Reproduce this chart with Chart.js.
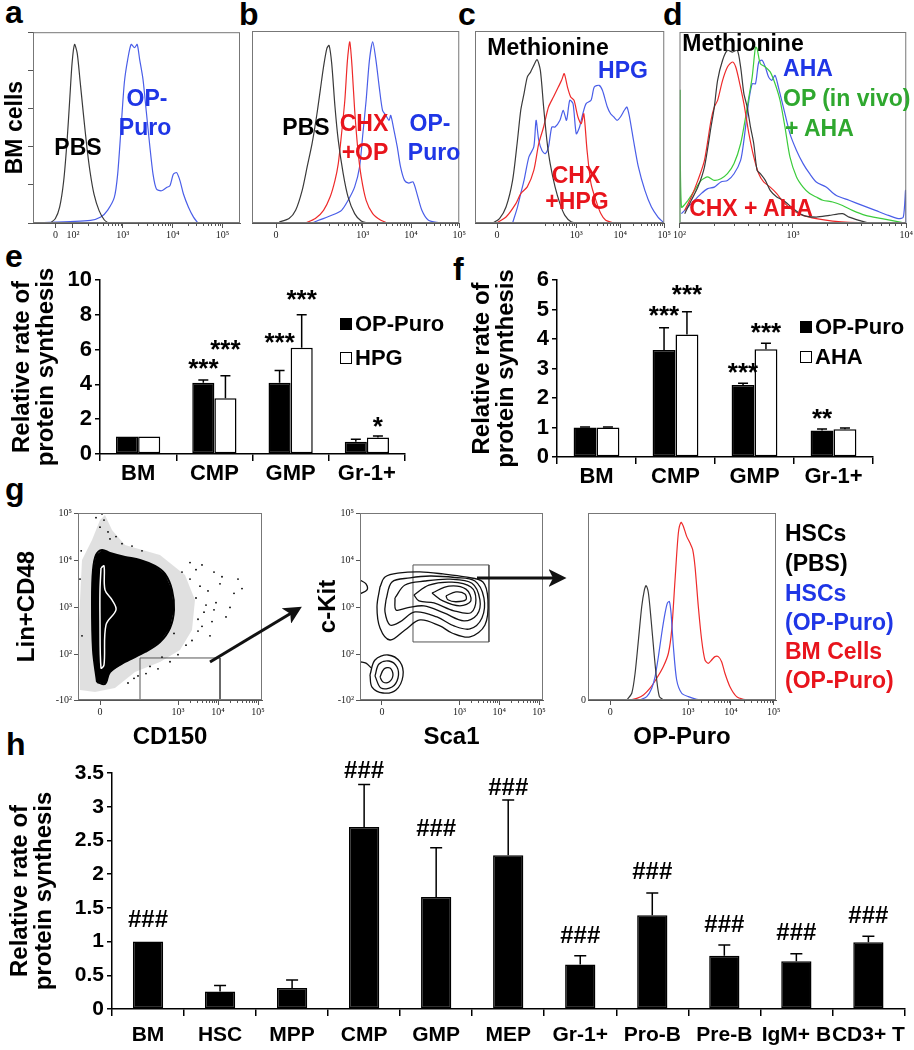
<!DOCTYPE html>
<html>
<head>
<meta charset="utf-8">
<script src="https://cdn.jsdelivr.net/npm/chart.js@4.4.1/dist/chart.umd.min.js"></script>
<style>
body { margin:0; background:#fff; width:914px; height:1050px; position:relative; overflow:hidden; font-family:"Liberation Sans", Arial, sans-serif; }
canvas { position:absolute; }
.pl { position:absolute; font-weight:bold; font-size:32px; line-height:1; }
.t { position:absolute; font-weight:bold; font-size:23px; line-height:1; white-space:nowrap; transform:translate(-50%,-50%); }
.tl { position:absolute; font-weight:bold; font-size:23px; line-height:1; white-space:nowrap; transform:translate(0,-50%); }
.k { color:#000; } .bl { color:#1f36e6; } .rd { color:#e8141c; } .gr { color:#2fa82f; }
svg { position:absolute; left:0; top:0; }
</style>
</head>
<body>

<!-- panel letters -->
<div class="pl" style="left:5px;top:-4px">a</div>
<div class="pl" style="left:239px;top:-2px">b</div>
<div class="pl" style="left:458px;top:-2px">c</div>
<div class="pl" style="left:663px;top:-2px">d</div>
<div class="pl" style="left:5px;top:240px">e</div>
<div class="pl" style="left:453px;top:253px">f</div>
<div class="pl" style="left:5px;top:473px">g</div>
<div class="pl" style="left:6px;top:728px">h</div>

<canvas id="ca" width="248" height="220" style="left:0;top:25px"></canvas>
<canvas id="cb" width="222" height="220" style="left:245px;top:25px"></canvas>
<canvas id="cc" width="202" height="220" style="left:470px;top:25px"></canvas>
<canvas id="cd" width="242" height="220" style="left:672px;top:25px"></canvas>
<canvas id="ce" width="455" height="235" style="left:0;top:255px"></canvas>
<canvas id="cf" width="459" height="235" style="left:455px;top:255px"></canvas>
<canvas id="cg1" width="270" height="255" style="left:0;top:495px"></canvas>
<canvas id="cg2" width="260" height="255" style="left:290px;top:495px"></canvas>
<canvas id="cg3" width="354" height="255" style="left:560px;top:495px"></canvas>
<canvas id="ch" width="914" height="305" style="left:0;top:745px"></canvas>

<!-- histogram annotations -->
<div class="t k" style="left:78px;top:147px">PBS</div>
<div class="t bl" style="left:147px;top:98px">OP-</div>
<div class="t bl" style="left:145px;top:127px">Puro</div>

<div class="t k" style="left:306px;top:127px">PBS</div>
<div class="t rd" style="left:364px;top:123px">CHX</div>
<div class="t rd" style="left:365px;top:152px">+OP</div>
<div class="t bl" style="left:430px;top:123px">OP-</div>
<div class="t bl" style="left:434px;top:152px">Puro</div>

<div class="t k" style="left:548px;top:47px">Methionine</div>
<div class="t bl" style="left:623px;top:70px">HPG</div>
<div class="t rd" style="left:576px;top:175px">CHX</div>
<div class="t rd" style="left:577px;top:201px">+HPG</div>

<div class="t k" style="left:743px;top:43px">Methionine</div>
<div class="t bl" style="left:808px;top:68px">AHA</div>
<div class="tl gr" style="left:783px;top:98px">OP (in vivo)</div>
<div class="tl gr" style="left:785px;top:128px">+ AHA</div>
<div class="t rd" style="left:751px;top:208px">CHX + AHA</div>

<div class="tl k" style="left:785px;top:533px">HSCs</div>
<div class="tl k" style="left:785px;top:563px">(PBS)</div>
<div class="tl bl" style="left:785px;top:593px">HSCs</div>
<div class="tl bl" style="left:785px;top:622px">(OP-Puro)</div>
<div class="tl rd" style="left:785px;top:651px">BM Cells</div>
<div class="tl rd" style="left:785px;top:680px">(OP-Puro)</div>

<svg width="914" height="1050">
  <defs>
    <marker id="ah" markerWidth="6" markerHeight="6" refX="4.5" refY="3" orient="auto">
      <path d="M0,0 L6,3 L0,6 L1.5,3 z" fill="#111"/>
    </marker>
  </defs>
  <line x1="210" y1="662" x2="298" y2="609" stroke="#111" stroke-width="3" marker-end="url(#ah)"/>
  <line x1="477" y1="578" x2="562" y2="578" stroke="#111" stroke-width="3" marker-end="url(#ah)"/>
</svg>

<script>
// ---- a: BM cells, x = log10 fluorescence, y = % of max ----
const aPbsLog = [1.545, 1.646, 1.734, 1.815, 1.883, 1.937, 1.984, 2.032, 2.086, 2.14, 2.207, 2.275, 2.343, 2.424, 2.525, 2.627, 2.708];
const aPbsPct = [0, 2.2, 8.3, 22, 43, 65, 84, 93.6, 89, 75.5, 58, 41, 27, 15, 6.5, 1.7, 0];
const aOpLog = [1.207, 2.356, 2.559, 2.694, 2.83, 2.897, 2.965, 3.032, 3.1, 3.168, 3.235, 3.289, 3.337, 3.404, 3.472, 3.539, 3.607, 3.675, 3.776, 3.878, 3.945, 4.013, 4.08, 4.148, 4.216, 4.317, 4.418, 4.506];
const aOpPct = [0, 1.4, 3.1, 6.6, 13.4, 25.5, 49.7, 73.8, 85.9, 93.6, 91.9, 93.6, 85.9, 75.5, 58.3, 41, 25.5, 17.8, 16.9, 18.6, 19.5, 25.5, 26.4, 22.1, 15.2, 8.3, 3.1, 0];

// ---- b ----
const bPbsLog = [1.265, 1.469, 1.605, 1.741, 1.844, 1.946, 2.048, 2.116, 2.184, 2.252, 2.299, 2.354, 2.422, 2.49, 2.592, 2.694, 2.83, 2.966, 3.102];
const bPbsPct = [0.5, 2.3, 6.6, 17, 29.2, 41.3, 56.9, 69.1, 81.3, 90.8, 92.5, 83, 60.4, 43, 25.7, 13.5, 4.9, 1, 0];
const bChxLog = [1.81, 2.014, 2.184, 2.32, 2.422, 2.49, 2.558, 2.626, 2.68, 2.728, 2.776, 2.83, 2.898, 2.966, 3.068, 3.204, 3.374, 3.51];
const bChxPct = [0, 2.3, 6.6, 13.5, 22.2, 30.9, 46.5, 63.9, 84.7, 94.3, 81.3, 58.7, 37.8, 24, 11.8, 4.9, 1.4, 0];
const bOpLog = [1.946, 2.082, 2.354, 2.558, 2.694, 2.83, 2.932, 3.0, 3.068, 3.136, 3.204, 3.272, 3.34, 3.408, 3.476, 3.544, 3.578, 3.646, 3.714, 3.782, 3.864, 3.952, 4.041, 4.122, 4.224, 4.361, 4.599];
const bOpPct = [0, 1.4, 4, 6.6, 11.8, 18.8, 29.2, 46.5, 63.9, 84.7, 94.3, 84.7, 70.8, 58.7, 56.1, 53.5, 56.1, 48.3, 39.6, 29.2, 22.2, 20.8, 21.4, 15.3, 6.6, 1.4, 0];

// ---- c ----
const cMetLog = [1.108, 1.257, 1.405, 1.554, 1.665, 1.739, 1.814, 1.888, 1.962, 2.036, 2.111, 2.185, 2.259, 2.333, 2.408, 2.519, 2.63, 2.742, 2.89, 3.001];
const cMetPct = [0, 2.3, 8.3, 22.2, 43.1, 58.7, 67.4, 76, 78.6, 82.1, 85.1, 79.5, 60.4, 43.1, 30.9, 18.8, 10.1, 4, 0.5, 0];
const cChxLog = [1.183, 1.405, 1.628, 1.739, 1.888, 2.036, 2.148, 2.259, 2.37, 2.482, 2.593, 2.667, 2.727, 2.801, 2.875, 2.95, 3.039, 3.113, 3.172, 3.246, 3.336, 3.447, 3.558, 3.67, 3.855];
const cChxPct = [0, 3.1, 10.1, 15.3, 18.8, 27.4, 41.3, 50, 60.4, 65.6, 70.8, 74.3, 77.8, 70.8, 65.6, 63.9, 55.2, 51.7, 56.9, 37.8, 20.5, 11.8, 4.9, 1.4, 0];
const cHpgLog = [1.554, 1.665, 1.739, 1.814, 1.925, 2.036, 2.088, 2.148, 2.222, 2.296, 2.37, 2.445, 2.519, 2.63, 2.704, 2.779, 2.853, 2.927, 3.001, 3.076, 3.15, 3.224, 3.336, 3.41, 3.521, 3.595, 3.707, 3.781, 3.855, 3.929, 4.004, 4.093, 4.152, 4.211, 4.301, 4.412, 4.56, 4.709, 4.857, 4.969];
const cHpgPct = [0, 8.3, 15.3, 22.2, 34.4, 39.6, 53.5, 43.1, 37.8, 36.1, 39.6, 50, 50, 53.5, 58.7, 53.5, 63.9, 62.2, 46.5, 50, 56.9, 62.2, 63.9, 70.8, 71.7, 69.1, 60.4, 56.9, 55.2, 53.5, 55.2, 58.7, 60.4, 55.2, 43.1, 29.2, 17, 8.3, 3.1, 0.5];

// ---- d ----
const dMetLog = [2.046, 2.104, 2.162, 2.22, 2.278, 2.307, 2.336, 2.38, 2.423, 2.467, 2.51, 2.539, 2.568, 2.597, 2.626, 2.655, 2.684, 2.713, 2.757, 2.8, 2.858, 2.916, 3.003, 3.09, 3.206, 3.322, 3.438, 3.496, 3.583, 3.67];
const dMetPct = [4.9, 11.9, 18.8, 29.3, 50.3, 60.7, 74.7, 85.2, 90.4, 89.5, 90.4, 81.7, 67.7, 60.7, 50.3, 41.5, 27.6, 25.8, 22.3, 17.1, 13.6, 11.9, 7.5, 4, 3.1, 4, 4.9, 3.1, 1.4, 0];
const dChxLog = [2.046, 2.104, 2.162, 2.22, 2.278, 2.307, 2.336, 2.38, 2.423, 2.467, 2.496, 2.525, 2.568, 2.612, 2.655, 2.699, 2.742, 2.8, 2.858, 2.916, 3.003, 3.09, 3.206, 3.351, 3.496, 3.786];
const dChxPct = [6.6, 13.6, 22.3, 32.8, 53.8, 60.7, 64.2, 74.7, 81.7, 84.3, 81.7, 74.7, 62.5, 46.8, 34.6, 25.8, 21.5, 18.8, 15.4, 11, 6.6, 4, 2.3, 1, 0.3, 0];
const dOpAhaLog = [2.003, 2.006, 2.017, 2.075, 2.133, 2.191, 2.249, 2.307, 2.365, 2.423, 2.481, 2.539, 2.583, 2.612, 2.641, 2.67, 2.684, 2.713, 2.757, 2.8, 2.843, 2.887, 2.93, 2.974, 3.032, 3.09, 3.148, 3.206, 3.264, 3.351, 3.438, 3.525, 3.641, 3.786, 3.901, 3.988];
const dOpAhaPct = [0, 69.5, 8.4, 11.9, 17.1, 22.3, 24.1, 22.3, 23.2, 25.8, 31.1, 41.5, 55.5, 66, 76.4, 92.1, 91.3, 83.4, 81.7, 79.1, 72.9, 64.2, 50.3, 34.6, 24.1, 18.8, 15.4, 13.6, 11.9, 11, 9.2, 6.6, 4, 2.3, 1, 0];
const dAhaLog = [2.017, 2.075, 2.133, 2.191, 2.249, 2.307, 2.365, 2.423, 2.481, 2.539, 2.568, 2.612, 2.641, 2.67, 2.699, 2.728, 2.757, 2.786, 2.814, 2.843, 2.872, 2.916, 2.974, 3.032, 3.09, 3.148, 3.206, 3.293, 3.38, 3.496, 3.612, 3.728, 3.843, 3.93, 3.974, 3.994, 4.0];
const dAhaPct = [4.9, 8.4, 11.9, 15.4, 18, 18.8, 21.5, 22.3, 25.8, 32.8, 43.3, 64.2, 72.9, 72.9, 84.3, 85.2, 81.7, 76.4, 74.7, 77.3, 71.2, 60.7, 46.8, 38, 31.1, 25.8, 21.5, 18.8, 14.5, 11.9, 9.2, 6.6, 4, 2.3, 3.1, 17.1, 0];

// ---- e / f bars (sigAt = height of the star marks, same units) ----
const eCats = ["BM", "CMP", "GMP", "Gr-1+"];
const eOpPuro = [1, 4.1, 4.1, 0.7];
const eOpPuroErr = [0, 0.15, 0.7, 0.15];
const eOpPuroSig = ["", "***", "***", ""];
const eOpPuroSigAt = [0, 5.3, 6.8, 0];
const eHpg = [1, 3.2, 6.1, 0.95];
const eHpgErr = [0, 1.3, 1.9, 0.08];
const eHpgSig = ["", "***", "***", "*"];
const eHpgSigAt = [0, 6.4, 9.25, 1.95];

const fCats = ["BM", "CMP", "GMP", "Gr-1+"];
const fOpPuro = [1, 3.63, 2.44, 0.9];
const fOpPuroErr = [0.02, 0.75, 0.06, 0.05];
const fOpPuroSig = ["", "***", "***", "**"];
const fOpPuroSigAt = [0, 5.03, 3.08, 1.54];
const fAha = [1, 4.15, 3.65, 0.94];
const fAhaErr = [0.02, 0.77, 0.21, 0.04];
const fAhaSig = ["", "***", "***", ""];
const fAhaSigAt = [0, 5.72, 4.45, 0];

// ---- g1: Lin+CD48 vs CD150 (display decades) ----
const g1HaloX = [0.55, 0.525, 0.6, 0.85, 1.05, 1.175, 1.35, 1.675, 2.55, 3.175, 3.425, 3.35, 3.05, 2.55, 1.925, 1.425, 0.925, 0.55];
const g1HaloY = [1.252, 2.735, 4.006, 4.43, 4.854, 4.96, 4.642, 4.324, 4.112, 3.688, 3.159, 2.523, 2.099, 1.845, 1.633, 1.294, 1.209, 1.252];
const g1BlobX = [0.975, 0.875, 0.85, 0.875, 0.95, 1.1, 1.3, 1.675, 2.05, 2.425, 2.675, 2.85, 2.9, 2.8, 2.55, 2.175, 1.675, 1.3, 1.175, 0.975];
const g1BlobY = [1.421, 2.099, 3.159, 3.794, 4.112, 4.218, 4.154, 4.07, 4.006, 3.879, 3.71, 3.371, 2.947, 2.565, 2.269, 2.057, 1.845, 1.633, 1.379, 1.421];
const g1CoreX = [1.075, 1.15, 1.175, 1.35, 1.45, 1.2, 1.15, 1.075, 1.05, 1.05, 1.075];
const g1CoreY = [3.837, 3.879, 3.371, 3.159, 2.947, 2.629, 1.782, 1.718, 2.735, 3.371, 3.837];
const g1DotX = [0.95, 1.05, 1.15, 1.25, 1.1, 1.3, 1.45, 1.6, 1.85, 2.1, 3.3, 3.45, 3.55, 3.65, 3.75, 3.85, 3.95, 4.05, 4.2, 4.4, 4.6, 3.5, 3.6, 3.8, 3.9, 4.1, 3.45, 3.7, 3.35, 3.6, 3.2, 3.0, 2.8, 2.5, 2.2, 1.9, 0.55, 0.6, 0.58, 3.9, 4.3, 4.5, 3.3, 3.5, 2.9, 3.1, 2.6, 2.3, 2.0, 1.75];
const g1DotY = [4.9, 4.7, 4.85, 4.6, 4.98, 4.45, 4.5, 4.35, 4.3, 4.2, 3.6, 3.2, 3.45, 2.9, 3.35, 2.7, 3.1, 3.5, 2.8, 3.3, 3.4, 2.5, 2.6, 2.4, 2.95, 3.65, 3.8, 3.05, 2.3, 3.9, 2.2, 2.0, 1.85, 1.7, 1.6, 1.5, 3.6, 2.4, 4.2, 3.75, 3.0, 3.6, 3.95, 2.75, 2.45, 3.75, 1.95, 1.75, 1.55, 1.4];
const g1GateX = [2.05, 2.05, 4.05, 4.05];
const g1GateY = [1.04, 1.93, 1.93, 1.04];

// ---- g2: c-Kit vs Sca1 contours ----
const g2C1X = [1.003, 1.128, 1.505, 2.008, 2.585, 3.138, 3.59, 3.716, 3.641, 3.264, 2.812, 2.51, 2.008, 1.631, 1.254, 1.003, 0.927, 1.003];
const g2C1Y = [3.434, 3.646, 3.731, 3.752, 3.709, 3.646, 3.54, 3.159, 2.629, 2.375, 2.459, 2.608, 2.735, 2.523, 2.311, 2.565, 3.01, 3.434];
const g2C2X = [1.153, 1.304, 1.756, 2.259, 2.887, 3.389, 3.615, 3.565, 3.264, 2.862, 2.434, 1.882, 1.505, 1.254, 1.128, 1.153];
const g2C2Y = [3.159, 3.54, 3.625, 3.666, 3.634, 3.559, 3.201, 2.777, 2.545, 2.609, 2.798, 2.904, 2.693, 2.629, 2.904, 3.159];
const g2C3X = [1.379, 1.631, 2.133, 2.761, 3.314, 3.515, 3.439, 3.113, 2.61, 2.108, 1.681, 1.405, 1.379];
const g2C3Y = [3.201, 3.476, 3.56, 3.599, 3.514, 3.159, 2.843, 2.716, 2.884, 3.033, 2.989, 2.947, 3.201];
const g2C4X = [1.856, 2.233, 2.811, 3.288, 3.414, 3.288, 2.861, 2.359, 1.982, 1.856];
const g2C4Y = [3.265, 3.474, 3.535, 3.431, 3.159, 2.888, 2.929, 3.096, 3.138, 3.265];
const g2C5X = [2.309, 2.736, 3.163, 3.288, 3.012, 2.584, 2.309];
const g2C5Y = [3.306, 3.452, 3.388, 3.14, 3.035, 3.139, 3.306];
const g2C6X = [2.66, 2.911, 3.137, 3.161, 2.91, 2.71, 2.66];
const g2C6Y = [3.246, 3.329, 3.285, 3.161, 3.121, 3.162, 3.246];
const g2S1X = [0.751, 0.877, 1.204, 1.505, 1.58, 1.405, 1.078, 0.802, 0.751];
const g2S1Y = [1.57, 1.887, 1.993, 1.845, 1.548, 1.252, 1.188, 1.315, 1.57];
const g2S2X = [0.877, 0.977, 1.229, 1.43, 1.455, 1.304, 1.028, 0.877];
const g2S2Y = [1.548, 1.803, 1.866, 1.739, 1.506, 1.315, 1.294, 1.548];
const g2S3X = [1.003, 1.103, 1.254, 1.329, 1.229, 1.078, 1.003];
const g2S3Y = [1.527, 1.697, 1.718, 1.57, 1.421, 1.421, 1.527];
const g2TailX = [0.5, 0.65, 0.78];
const g2TailY = [1.85, 1.82, 1.72];
const g2EdgeX = [0.5, 0.651, 0.676, 0.5];
const g2EdgeY = [3.582, 3.498, 3.371, 3.286];
const g2GateX = [1.832, 3.741, 3.741, 1.832, 1.832];
const g2GateY = [3.9, 3.9, 2.269, 2.269, 3.9];

// ---- g3: OP-Puro histograms ----
const gPbsLog = [1.574, 1.69, 1.767, 1.845, 1.922, 1.984, 2.023, 2.078, 2.14, 2.209, 2.271, 2.333, 2.426];
const gPbsPct = [0, 3.6, 14.3, 32.1, 50, 58.9, 61.1, 57.1, 42.9, 25, 10.7, 1.8, 0];
const gHscOpLog = [1.884, 2.039, 2.155, 2.233, 2.31, 2.388, 2.465, 2.519, 2.566, 2.605, 2.659, 2.736, 2.853, 3.008, 3.202, 3.357];
const gHscOpPct = [0, 1.8, 6.3, 12.5, 23.2, 35.7, 46.4, 51.8, 52.7, 46.4, 28.6, 10.7, 3.6, 1.8, 0.4, 0];
const gBmOpLog = [1.651, 1.806, 1.961, 2.116, 2.271, 2.426, 2.543, 2.62, 2.698, 2.775, 2.837, 2.891, 2.969, 3.047, 3.109, 3.163, 3.24, 3.318, 3.395, 3.473, 3.55, 3.628, 3.705, 3.783, 3.86, 3.977, 4.132, 4.287, 4.442];
const gBmOpPct = [0, 0.9, 2.7, 6.3, 11.6, 17.9, 25, 37.5, 64.3, 89.3, 95, 92.9, 87.5, 83.9, 80.4, 71.4, 50, 32.1, 21.4, 19.6, 21.4, 23.2, 23.2, 20.5, 14.3, 7.1, 1.8, 0.4, 0];

// ---- h bars ----
const hCats = ["BM", "HSC", "MPP", "CMP", "GMP", "MEP", "Gr-1+", "Pro-B", "Pre-B", "IgM+ B", "CD3+ T"];
const hRate = [1.0, 0.26, 0.31, 2.7, 1.66, 2.28, 0.66, 1.39, 0.79, 0.71, 0.99];
const hErr = [0, 0.09, 0.12, 0.63, 0.73, 0.82, 0.13, 0.33, 0.16, 0.11, 0.09];
const hSig = ["###", "", "", "###", "###", "###", "###", "###", "###", "###", "###"];
const hSigAt = [1.35, 0, 0, 3.56, 2.7, 3.31, 1.11, 2.06, 1.28, 1.16, 1.41];

// -------------------------------------------------------------
Chart.defaults.font.family = '"Liberation Sans", Arial, sans-serif';
Chart.defaults.color = '#000';
Chart.defaults.animation = false;

const pts = (xs, ys) => xs.map((x, i) => ({ x: x, y: ys[i] }));
const serif = { family: '"Liberation Serif", "DejaVu Serif", serif', size: 10 };
const bold = (s) => ({ family: '"Liberation Sans", Arial, sans-serif', size: s, weight: 'bold', lineHeight: 1 });

// box round the plot area
const frame = {
  id: 'frame',
  afterDraw(chart, args, o) {
    if (!o.color) return;
    const { ctx, chartArea: a } = chart;
    ctx.save();
    ctx.strokeStyle = o.color;
    ctx.lineWidth = 1;
    ctx.strokeRect(a.left + 0.5, a.top + 0.5, a.right - a.left - 1, a.bottom - a.top - 1);
    ctx.restore();
  }
};

// log minor ticks under the x axis
const minorTicks = {
  id: 'minorTicks',
  afterDraw(chart, args, o) {
    if (o.from === undefined) return;
    const { ctx } = chart;
    const s = chart.scales.x;
    ctx.save();
    ctx.strokeStyle = '#555';
    ctx.lineWidth = 1;
    for (let d = o.from; d < o.to; d++) {
      for (let k = 2; k < 10; k++) {
        const v = d + Math.log10(k);
        if (v < s.min || v > s.max) continue;
        const px = Math.round(s.getPixelForValue(v)) + 0.5;
        ctx.beginPath();
        ctx.moveTo(px, s.top);
        ctx.lineTo(px, s.top + 3);
        ctx.stroke();
      }
    }
    ctx.restore();
  }
};

// filled shapes (dense cell cloud)
const polyFill = {
  id: 'polyFill',
  beforeDatasetsDraw(chart) {
    const { ctx } = chart;
    chart.data.datasets.forEach((ds, i) => {
      if (!ds.polyColor) return;
      const els = chart.getDatasetMeta(i).data;
      ctx.save();
      ctx.beginPath();
      els.forEach((p, k) => (k ? ctx.lineTo(p.x, p.y) : ctx.moveTo(p.x, p.y)));
      ctx.closePath();
      ctx.fillStyle = ds.polyColor;
      ctx.fill();
      ctx.restore();
    });
  }
};

// error bars + significance marks
const errorBars = {
  id: 'errorBars',
  afterDatasetsDraw(chart, args, o) {
    const { ctx } = chart;
    const y = chart.scales.y;
    chart.data.datasets.forEach((ds, i) => {
      const meta = chart.getDatasetMeta(i);
      meta.data.forEach((bar, j) => {
        const e = ds.errors ? ds.errors[j] : 0;
        const top = y.getPixelForValue(ds.data[j] + e);
        ctx.save();
        ctx.strokeStyle = '#000';
        ctx.lineWidth = 1.5;
        if (e > 0) {
          ctx.beginPath();
          ctx.moveTo(bar.x, bar.y);
          ctx.lineTo(bar.x, top);
          ctx.moveTo(bar.x - o.cap, top);
          ctx.lineTo(bar.x + o.cap, top);
          ctx.stroke();
        }
        if (ds.sig && ds.sig[j]) {
          ctx.fillStyle = '#000';
          ctx.font = o.sigFont;
          ctx.textAlign = 'center';
          ctx.textBaseline = 'alphabetic';
          ctx.fillText(ds.sig[j], bar.x, y.getPixelForValue(ds.sigAt[j]) + o.drop);
        }
        ctx.restore();
      });
    });
  }
};

// legend drawn inside plot area
const boxLegend = {
  id: 'boxLegend',
  afterDraw(chart, args, o) {
    if (!o.dx) return;
    const { ctx, chartArea: a } = chart;
    ctx.save();
    ctx.font = 'bold 22px "Liberation Sans", Arial, sans-serif';
    ctx.textBaseline = 'middle';
    chart.data.datasets.forEach((ds, i) => {
      const x = a.left + o.dx, y = a.top + o.dy + i * o.row;
      ctx.fillStyle = ds.backgroundColor;
      ctx.fillRect(x, y - 6, 12, 12);
      ctx.strokeStyle = '#000';
      ctx.lineWidth = 1;
      ctx.strokeRect(x + 0.5, y - 5.5, 11, 11);
      ctx.fillStyle = '#000';
      ctx.fillText(ds.label, x + 15, y + 1);
    });
    ctx.restore();
  }
};

function curve(xs, ys, color) {
  return { data: pts(xs, ys), showLine: true, borderColor: color, borderWidth: 1.2, pointRadius: 0, tension: 0.25 };
}
function contour(xs, ys) {
  return { data: pts(xs, ys), showLine: true, borderColor: '#111', borderWidth: 1.3, pointRadius: 0, tension: 0.35 };
}

function flowX(min, max, vals, labs, h) {
  return {
    type: 'linear', min: min, max: max,
    afterBuildTicks: (s) => { s.ticks = vals.map((v) => ({ value: v })); },
    afterFit: (s) => { s.height = h; },
    ticks: { callback: (v, i) => labs[i], font: serif, color: '#222', padding: 1, maxRotation: 0, autoSkip: false },
    grid: { drawOnChartArea: false, tickLength: 5, color: '#555' },
    border: { color: '#555' }
  };
}

function flowChart(id, sets, xAxis, yAxis, pad, minor) {
  return new Chart(document.getElementById(id), {
    type: 'scatter',
    data: { datasets: sets },
    options: {
      responsive: false,
      layout: { padding: pad, autoPadding: false },
      plugins: { legend: { display: false }, tooltip: { enabled: false }, frame: { color: '#777' }, minorTicks: minor },
      scales: { x: xAxis, y: yAxis },
      events: []
    },
    plugins: [frame, minorTicks, polyFill]
  });
}

const blackLine = '#3a3a3a', blueLine = '#4a5ee8', redLine = '#ee2a2a', greenLine = '#3ccc3c';
const hideY = { display: false, min: 0, max: 100 };

// a
flowChart('ca',
  [curve(aPbsLog, aPbsPct, blackLine), curve(aOpLog, aOpPct, blueLine)],
  flowX(1.2, 5.35, [1.65, 2, 3, 4, 5], ['0', '10²', '10³', '10⁴', '10⁵'], 22),
  { min: 0, max: 100, afterFit: (s) => { s.width = 33; },
    ticks: { stepSize: 20, callback: () => '', padding: 0 },
    grid: { drawOnChartArea: false, tickLength: 5, color: '#555' }, border: { color: '#555' },
    title: { display: true, text: 'BM cells', font: bold(23), padding: { top: 4 } } },
  { top: 4, right: 8 }, { from: 2, to: 5 });

// b
flowChart('cb',
  [curve(bPbsLog, bPbsPct, blackLine), curve(bChxLog, bChxPct, redLine), curve(bOpLog, bOpPct, blueLine)],
  flowX(0.7, 5.0, [1.2, 3, 4, 5], ['0', '10³', '10⁴', '10⁵'], 22),
  hideY, { left: 7, top: 6, right: 5 }, { from: 2, to: 5 });

// c
flowChart('cc',
  [curve(cMetLog, cMetPct, blackLine), curve(cChxLog, cChxPct, redLine), curve(cHpgLog, cHpgPct, blueLine)],
  flowX(0.7, 5.0, [1.2, 3, 4, 5], ['0', '10³', '10⁴', '10⁵'], 22),
  hideY, { left: 5, top: 6, right: 4 }, { from: 2, to: 5 });

// d
flowChart('cd',
  [curve(dMetLog, dMetPct, blackLine), curve(dChxLog, dChxPct, redLine), curve(dOpAhaLog, dOpAhaPct, greenLine), curve(dAhaLog, dAhaPct, blueLine)],
  flowX(2, 4, [2, 3, 4], ['10²', '10³', '10⁴'], 22),
  hideY, { left: 6, top: 7, right: 6 }, { from: 2, to: 4 });

// g1 / g2 axes
const gY = (title, w, tp) => ({
  min: 1.04, max: 5.0,
  afterBuildTicks: (s) => { s.ticks = [1.04, 2, 3, 4, 5].map((v) => ({ value: v })); },
  afterFit: (s) => { s.width = w; },
  ticks: { callback: (v, i) => ['-10²', '10²', '10³', '10⁴', '10⁵'][i], font: serif, color: '#222', padding: 2, autoSkip: false },
  grid: { drawOnChartArea: false, tickLength: 4, color: '#555' }, border: { color: '#555' },
  title: { display: true, text: title, font: bold(24), padding: { top: tp } }
});
const gX = (title) => {
  const ax = flowX(0.5, 5.1, [1.05, 3, 4, 5], ['0', '10³', '10⁴', '10⁵'], 50);
  ax.title = { display: true, text: title, font: bold(24), padding: { bottom: 1 } };
  return ax;
};

flowChart('cg1',
  [
    Object.assign(contour(g1HaloX, g1HaloY), { borderWidth: 0, polyColor: 'rgba(0,0,0,0.12)' }),
    Object.assign(contour(g1BlobX, g1BlobY), { borderColor: '#000', borderWidth: 2, polyColor: '#000' }),
    Object.assign(contour(g1CoreX, g1CoreY), { borderColor: '#fff', borderWidth: 1.5 }),
    { data: pts(g1DotX, g1DotY), pointRadius: 0.9, pointBackgroundColor: '#000', pointBorderWidth: 0 },
    { data: pts(g1GateX, g1GateY), showLine: true, borderColor: '#555', borderWidth: 1, pointRadius: 0, tension: 0 }
  ],
  gX('CD150'), gY('Lin+CD48', 78, 15), { top: 18, right: 8 }, { from: 3, to: 5 });

flowChart('cg2',
  [
    contour(g2C1X, g2C1Y), contour(g2C2X, g2C2Y), contour(g2C3X, g2C3Y),
    contour(g2C4X, g2C4Y), contour(g2C5X, g2C5Y), contour(g2C6X, g2C6Y),
    contour(g2S1X, g2S1Y), contour(g2S2X, g2S2Y), contour(g2S3X, g2S3Y),
    contour(g2TailX, g2TailY), contour(g2EdgeX, g2EdgeY),
    { data: pts(g2GateX, g2GateY), showLine: true, borderColor: '#555', borderWidth: 1, pointRadius: 0, tension: 0 }
  ],
  gX('Sca1'), gY('c-Kit', 70, 26), { top: 18, right: 7 }, { from: 3, to: 5 });

// g3
const g3X = flowX(0.67, 5.05, [1.19, 3, 4, 5], ['0', '10³', '10⁴', '10⁵'], 50);
g3X.title = { display: true, text: 'OP-Puro', font: bold(24), padding: { bottom: 1 } };
flowChart('cg3',
  [curve(gPbsLog, gPbsPct, blackLine), curve(gHscOpLog, gHscOpPct, blueLine), curve(gBmOpLog, gBmOpPct, redLine)],
  g3X,
  { min: 0, max: 100, afterBuildTicks: (s) => { s.ticks = [{ value: 0 }]; },
    afterFit: (s) => { s.width = 28; },
    ticks: { callback: () => '0', font: serif, color: '#222', padding: 2 },
    grid: { drawOnChartArea: false, tickLength: 0 }, border: { color: '#555' } },
  { top: 18, right: 138 }, { from: 3, to: 5 });

// bar charts
function barChart(id, cats, sets, yMax, step, yW, xH, pad, titlePad, cat, fs, xPad, errOpt, leg) {
  return new Chart(document.getElementById(id), {
    type: 'bar',
    data: { labels: cats, datasets: sets },
    options: {
      responsive: false,
      layout: { padding: pad, autoPadding: false },
      datasets: { bar: { categoryPercentage: cat, barPercentage: 1.0, borderColor: '#000', borderWidth: 1.5, borderSkipped: false } },
      plugins: { legend: { display: false }, tooltip: { enabled: false }, errorBars: errOpt, boxLegend: leg },
      scales: {
        x: { afterFit: (s) => { s.height = xH; },
          ticks: { font: bold(fs), color: '#000', padding: xPad, maxRotation: 0, autoSkip: false },
          grid: { display: true, drawOnChartArea: false, tickLength: 7, color: '#000', lineWidth: 1.5 },
          border: { color: '#000', width: 1.5 } },
        y: { min: 0, max: yMax, afterFit: (s) => { s.width = yW; },
          ticks: { stepSize: step, font: bold(fs), color: '#000', padding: 3, callback: (v) => String(+v.toFixed(1)) },
          grid: { display: true, drawOnChartArea: false, tickLength: 5, color: '#000', lineWidth: 1.5 },
          border: { color: '#000', width: 1.5 },
          title: { display: true, text: ['Relative rate of', 'protein synthesis'], font: bold(24), padding: { top: titlePad } } }
      },
      events: []
    },
    plugins: [errorBars, boxLegend]
  });
}

const starFont = 'bold 26px "Liberation Sans", Arial, sans-serif';
barChart('ce', eCats, [
  { label: 'OP-Puro', data: eOpPuro, errors: eOpPuroErr, sig: eOpPuroSig, sigAt: eOpPuroSigAt, backgroundColor: '#000' },
  { label: 'HPG', data: eHpg, errors: eHpgErr, sig: eHpgSig, sigAt: eHpgSigAt, backgroundColor: '#fff' }
], 10, 2, 100, 36, { top: 25, right: 50 }, 10, 0.58, 22, 2,
  { cap: 5, drop: 15, sigFont: starFont }, { dx: 240, dy: 44, row: 34 });

barChart('cf', fCats, [
  { label: 'OP-Puro', data: fOpPuro, errors: fOpPuroErr, sig: fOpPuroSig, sigAt: fOpPuroSigAt, backgroundColor: '#000' },
  { label: 'AHA', data: fAha, errors: fAhaErr, sig: fAhaSig, sigAt: fAhaSigAt, backgroundColor: '#fff' }
], 6, 1, 102, 33, { top: 25, right: 41 }, 15, 0.58, 22, 2,
  { cap: 5, drop: 15, sigFont: starFont }, { dx: 243, dy: 47, row: 30 });

barChart('ch', hCats, [
  { label: 'rate', data: hRate, errors: hErr, sig: hSig, sigAt: hSigAt, backgroundColor: '#000' }
], 3.5, 0.5, 112, 41, { top: 28, right: 3 }, 8, 0.42, 21, 9,
  { cap: 6, drop: 9, sigFont: 'bold 24px "Liberation Sans", Arial, sans-serif' }, {});
</script>
</body>
</html>
